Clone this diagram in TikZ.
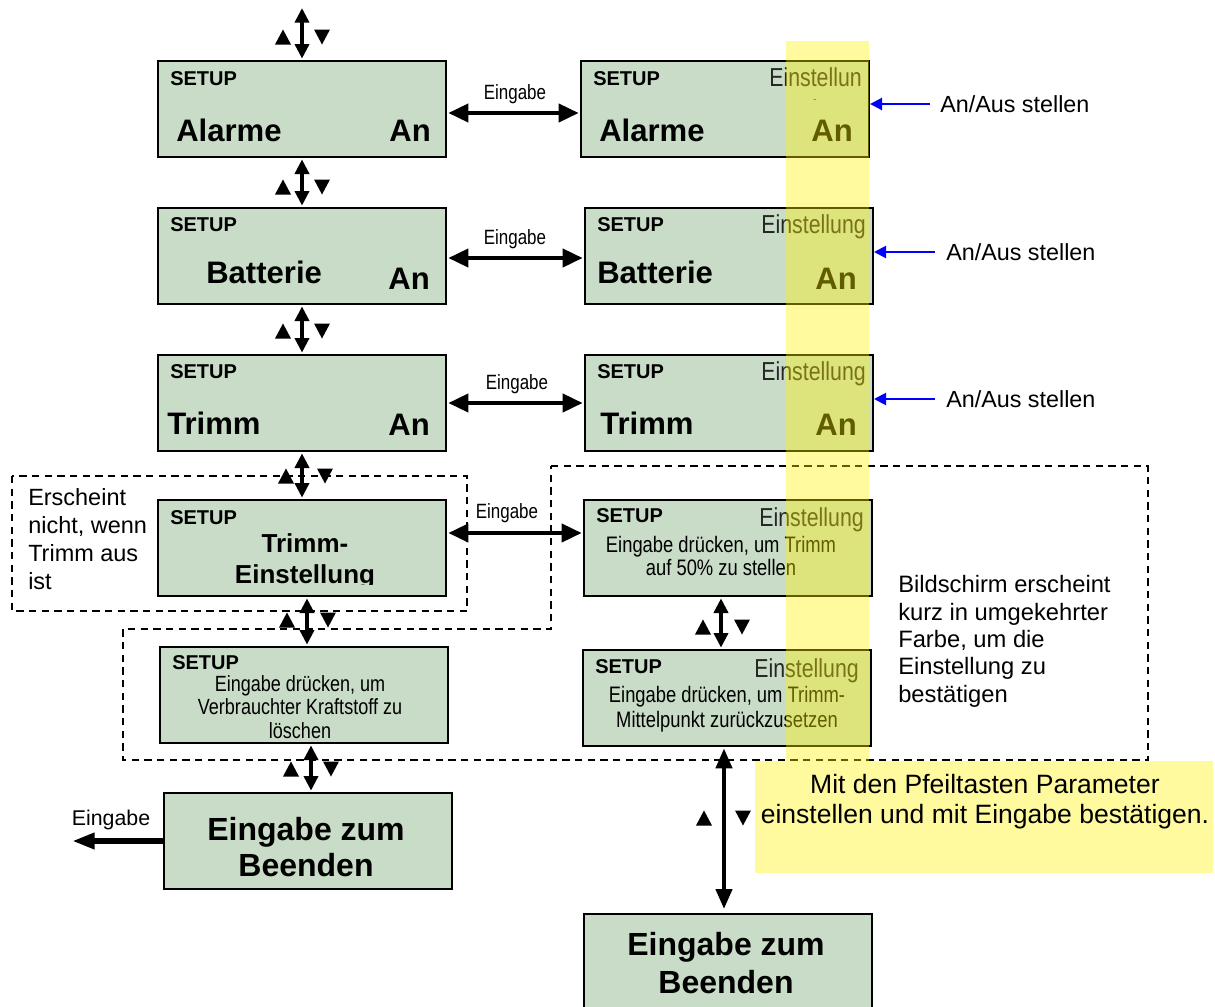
\documentclass[tikz,border=0pt]{standalone}
\usepackage{fontspec}
\setmainfont{Liberation Sans}
\newfontfamily\narrowfont[FakeStretch=0.82]{Liberation Sans}
\usetikzlibrary{arrows.meta}
\definecolor{lcdgreen}{RGB}{200,220,200}
\newcommand\uptri[2]{\fill (#1-8,#2+7.5) -- (#1+8,#2+7.5) -- (#1,#2-7.5) -- cycle;}
\newcommand\dntri[2]{\fill (#1-8,#2-7.5) -- (#1+8,#2-7.5) -- (#1,#2+7.5) -- cycle;}
\tikzset{
  lcd/.style={draw=black, line width=1.5pt, fill=lcdgreen, minimum width=216pt, minimum height=72pt, inner sep=0pt, anchor=north west},
  setup/.style={font=\bfseries\fontsize{15}{18}\selectfont, inner sep=0pt, anchor=base west},
  big/.style={font=\bfseries\fontsize{23.3}{27}\selectfont, inner sep=0pt},
  mid/.style={font=\bfseries\fontsize{19.5}{23}\selectfont, inner sep=0pt, anchor=base},
  einst/.style={font=\narrowfont\fontsize{19.5}{23}\selectfont, text=black!85, inner sep=0pt, anchor=base east},
  inner/.style={font=\narrowfont\fontsize{16.5}{17.6}\selectfont, inner sep=0pt, anchor=base, align=center},
  lbl/.style={font=\narrowfont\fontsize{15.5}{18}\selectfont, inner sep=0pt, anchor=base},
  body/.style={font=\fontsize{17.6}{20.6}\selectfont, inner sep=0pt, anchor=base west, align=left},
  endtxt/.style={font=\bfseries\fontsize{24}{27.5}\selectfont, inner sep=0pt, anchor=base, align=center},
  biarr/.style={{Triangle[length=15pt,width=13.5pt]}-{Triangle[length=15pt,width=13.5pt]}, line width=3pt, shorten <=1pt, shorten >=1pt},
  varr/.style={{Triangle[length=11pt,width=10.5pt]}-{Triangle[length=11pt,width=10.5pt]}, line width=3pt, shorten <=1pt, shorten >=1pt},
  exitarr/.style={-{Triangle[length=17pt,width=11.5pt]}, line width=4.8pt},
  bluearr/.style={-{Triangle[length=9pt,width=9pt]}, draw=blue, line width=1.5pt},
  dashbox/.style={draw=black, line width=1.1pt, dash pattern=on 5.5pt off 4pt},
}
\begin{document}
\begin{tikzpicture}[x=0.75pt, y=-0.75pt]
\useasboundingbox (0,0) rectangle (1215,1007);

% dashed groupings
\draw[dashbox] (12,476) rectangle (467,611);
\draw[dashbox] (551,466) -- (1148,466) -- (1148,760) -- (123,760) -- (123,629) -- (551,629) -- cycle;

% boxes
\node[lcd] (L1) at (157,60) {};
\node[lcd] (L2) at (157,207) {};
\node[lcd] (L3) at (157,354) {};
\node[lcd] (L4) at (157,499) {};
\node[lcd] (L5) at (159,646) {};
\node[lcd] (L6) at (163,792) {};
\node[lcd] (R1) at (580,60) {};
\node[lcd] (R2) at (584,207) {};
\node[lcd] (R3) at (584,354) {};
\node[lcd] (R4) at (583,499) {};
\node[lcd] (R5) at (582,649) {};
\node[lcd] (R6) at (583,913) {};

% box texts
\node[setup] (L1s) at (170,85) {SETUP};
\node[big, anchor=base west] (L1t) at (176,141) {Alarme};
\node[big, anchor=base east] (L1v) at (431,141) {An};
\node[setup] (R1s) at (593,85) {SETUP};
\node[einst] (R1e) at (862,86) {Einstellun};
\node[font=\fontsize{7}{8}\selectfont, inner sep=0pt, text=black!85] (R1d) at (815,101) {-};
\node[big, anchor=base west] (R1t) at (599,141) {Alarme};
\node[big, anchor=base east] (R1v) at (853,141) {An};

\node[setup] (L2s) at (170,231) {SETUP};
\node[big, anchor=base west] (L2t) at (206,283) {Batterie};
\node[big, anchor=base east] (L2v) at (430,289) {An};
\node[setup] (R2s) at (597,231) {SETUP};
\node[einst] (R2e) at (866,233) {Einstellung};
\node[big, anchor=base west] (R2t) at (597,283) {Batterie};
\node[big, anchor=base east] (R2v) at (857,289) {An};

\node[setup] (L3s) at (170,378) {SETUP};
\node[big, anchor=base west] (L3t) at (167,434) {Trimm};
\node[big, anchor=base east] (L3v) at (430,435) {An};
\node[setup] (R3s) at (597,378) {SETUP};
\node[einst] (R3e) at (866,380) {Einstellung};
\node[big, anchor=base west] (R3t) at (600,434) {Trimm};
\node[big, anchor=base east] (R3v) at (857,435) {An};

\node[setup] (L4s) at (170,524) {SETUP};
\begin{scope}
\clip (157,499) rectangle (445,584);
\node[mid] (L4a) at (305,552) {Trimm-};
\node[mid] (L4b) at (305,583) {Einstellung};
\end{scope}
\node[setup] (R4s) at (596,522) {SETUP};
\node[einst] (R4e) at (864,526) {Einstellung};
\node[inner, font=\narrowfont\fontsize{16.8}{17.25}\selectfont] (R4t) at (721,575) {Eingabe drücken, um Trimm\\auf 50\% zu stellen};

\node[setup] (L5s) at (172,669) {SETUP};
\node[inner] (L5t) at (300,738) {Eingabe drücken, um\\Verbrauchter Kraftstoff zu\\löschen};
\node[setup] (R5s) at (595,673) {SETUP};
\node[einst] (R5e) at (859,677) {Einstellung};
\node[inner, font=\narrowfont\fontsize{16.8}{18.75}\selectfont] (R5t) at (727,727) {Eingabe drücken, um Trimm-\\Mittelpunkt zurückzusetzen};

\node[endtxt, font=\bfseries\fontsize{24}{27}\selectfont] (L6t) at (306,876) {Eingabe zum\\Beenden};
\node[endtxt, font=\bfseries\fontsize{24}{28.5}\selectfont] (R6t) at (726,993) {Eingabe zum\\Beenden};

% vertical navigation arrows
\coordinate (top) at (302,8);
\draw[varr, shorten <=0pt] (top) -- (top |- L1.north);
\draw[varr] (L1.south) -- (L2.north);
\draw[varr] (L2.south) -- (L3.north);
\draw[varr] (L3.south) -- (L4.north);
\coordinate (v45) at (307,0);
\draw[varr] (v45 |- L4.south) -- (v45 |- L5.north);
\coordinate (v56) at (311,0);
\draw[varr] (v56 |- L5.south) -- (v56 |- L6.north);
\coordinate (w45) at (721,0);
\draw[varr] (w45 |- R4.south) -- (w45 |- R5.north);
\coordinate (w56) at (724,0);
\draw[{Triangle[length=15pt,width=12pt]}-{Triangle[length=15pt,width=12pt]}, line width=3.2pt, shorten <=1pt, shorten >=3pt] (w56 |- R5.south) -- (w56 |- R6.north);

\uptri{283}{37}\dntri{322}{37}
\uptri{283}{187}\dntri{322}{187}
\uptri{283}{331}\dntri{322}{331}
\uptri{286}{476}\dntri{325}{476}
\uptri{287}{620}\dntri{328}{620}
\uptri{291}{769}\dntri{331}{769}
\uptri{703}{627}\dntri{742}{627}
\uptri{704}{818}\dntri{743}{818}

% horizontal Eingabe arrows
\coordinate (h1) at (0,113);
\coordinate (h2) at (0,258);
\coordinate (h3) at (0,403);
\coordinate (h4) at (0,533);
\draw[biarr] (L1.east |- h1) -- (R1.west |- h1);
\draw[biarr] (L2.east |- h2) -- (R2.west |- h2);
\draw[biarr] (L3.east |- h3) -- (R3.west |- h3);
\draw[biarr] (L4.east |- h4) -- (R4.west |- h4);
\node[lbl] (e1) at (515,99) {Eingabe};
\node[lbl] (e2) at (515,244) {Eingabe};
\node[lbl] (e3) at (517,389) {Eingabe};
\node[lbl] (e4) at (507,518) {Eingabe};

% exit arrow
\coordinate (exitL) at (72,0);
\draw[exitarr] (L6.west) -- (exitL |- L6.west);
\node[font=\fontsize{16}{19}\selectfont, inner sep=0pt, anchor=base] (e5) at (111,825) {Eingabe};

% side notes
\node[body, font=\fontsize{17.6}{20.8}\selectfont] (n1) at (28,589) {Erscheint\\nicht, wenn\\Trimm aus\\ist};
\node[body, font=\fontsize{17.8}{20.5}\selectfont] (n2) at (898,702) {Bildschirm erscheint\\kurz in umgekehrter\\Farbe, um die\\Einstellung zu\\bestätigen};

% highlight band
\fill[yellow, fill opacity=0.38] (786,41) rectangle (869,761);

% blue arrows
\node[font=\fontsize{17.5}{21}\selectfont, inner sep=0pt, anchor=base west] (a1) at (940,112) {An/Aus stellen};
\node[font=\fontsize{17.5}{21}\selectfont, inner sep=0pt, anchor=base west] (a2) at (946,260) {An/Aus stellen};
\node[font=\fontsize{17.5}{21}\selectfont, inner sep=0pt, anchor=base west] (a3) at (946,407) {An/Aus stellen};
\coordinate (b1) at (930,104);
\coordinate (b2) at (935,252);
\coordinate (b3) at (935,399);
\draw[bluearr] (b1) -- (b1 -| R1.east);
\draw[bluearr] (b2) -- (b2 -| R2.east);
\draw[bluearr] (b3) -- (b3 -| R3.east);

% bottom note
\fill[yellow, fill opacity=0.38] (755,761) rectangle (1213,873);
\node[font=\fontsize{19.9}{22.5}\selectfont, inner sep=0pt, anchor=base, align=center] (note) at (985,823) {Mit den Pfeiltasten Parameter\\einstellen und mit Eingabe bestätigen.};
\end{tikzpicture}
\end{document}
